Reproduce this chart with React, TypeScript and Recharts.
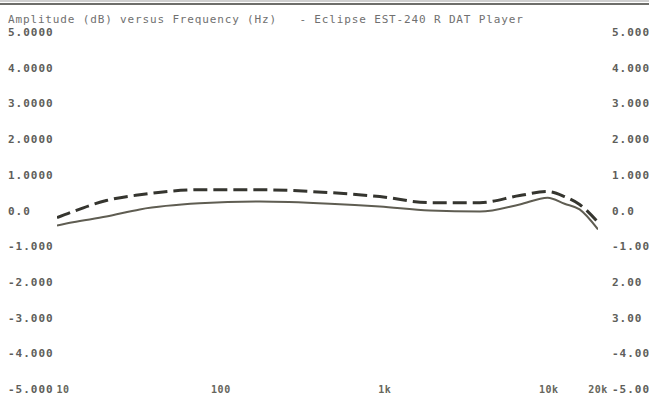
import { Line, LineChart, XAxis, YAxis } from "recharts";

// frequency points in Hz
const freqs = [10, 12.5, 20, 32, 74, 173, 462, 933, 1880, 3800, 6660, 9860, 12500, 15450, 20000];
// dashed trace (dB)
const dashedDb = [-0.2, -0.03, 0.28, 0.44, 0.58, 0.58, 0.5, 0.39, 0.22, 0.22, 0.42, 0.53, 0.39, 0.17, -0.33];
// solid trace (dB)
const solidDb = [-0.42, -0.33, -0.17, 0.03, 0.2, 0.25, 0.19, 0.11, 0.0, -0.03, 0.17, 0.36, 0.19, 0.03, -0.53];

const xTicks = [10, 100, 1000, 10000, 20000];
const xLabels = ["10", "100", "1k", "10k", "20k"];
const yTicks = [5, 4, 3, 2, 1, 0, -1, -2, -3, -4, -5];
const leftLabels = ["5.0000", "4.0000", "3.0000", "2.0000", "1.0000", "0.0", "-1.000", "-2.000", "-3.000", "-4.000", "-5.000"];
const rightLabels = ["5.000", "4.000", "3.000", "2.000", "1.000", "0.0", "-1.00", "2.00", "3.00", "-4.00", "-5.00"];

const title = "Amplitude (dB) versus Frequency (Hz)   - Eclipse EST-240 R DAT Player";

const data = freqs.map((f, i) => ({ f, dashed: dashedDb[i], solid: solidDb[i] }));

const mono = "'DejaVu Sans Mono', monospace";

function YTick(props: any) {
  const i = yTicks.indexOf(props.payload.value);
  return (
    <g fontFamily={mono} fontSize={11} fontWeight="bold" letterSpacing={1.0} fill="#5e5e5a">
      <text x={8} y={props.y} dy={4} textAnchor="start">
        {leftLabels[i]}
      </text>
      <text x={612} y={props.y} dy={4} textAnchor="start">
        {rightLabels[i]}
      </text>
    </g>
  );
}

function BottomTick(props: any) {
  const i = xTicks.indexOf(props.payload.value);
  return (
    <text
      x={props.x}
      y={389}
      dx={i === 0 ? 6 : 0}
      dy={4}
      fontFamily={mono}
      fontSize={10}
      fontWeight="bold"
      letterSpacing={0.5}
      fill="#66665c"
      textAnchor="middle"
    >
      {xLabels[i]}
    </text>
  );
}

export default function App() {
  return (
    <div style={{ position: "relative", width: 649, height: 397, background: "#fff" }}>
      <style>{`body{margin:0;background:#fff}`}</style>
      <div style={{ position: "absolute", left: 0, top: 0, width: 649, height: 2, background: "#cfcfcf" }} />
      <div style={{ position: "absolute", left: 0, top: 3, width: 649, height: 2, background: "#6e6e6a" }} />
      <div
        style={{
          position: "absolute",
          left: 8,
          top: 14,
          fontFamily: mono,
          fontSize: 11,
          letterSpacing: 0.85,
          color: "#707070",
          whiteSpace: "pre",
          lineHeight: "11px",
        }}
      >
        {title}
      </div>
      <LineChart width={649} height={397} data={data} margin={{ top: 32, right: 51, bottom: 0, left: 0 }}>
        <XAxis
          dataKey="f"
          type="number"
          scale="log"
          domain={[10, 20000]}
          ticks={xTicks}
          tick={<BottomTick />}
          axisLine={false}
          tickLine={false}
          height={8}
          interval={0}
          allowDataOverflow
        />
        <YAxis
          orientation="left"
          width={57}
          domain={[-5, 5]}
          ticks={yTicks}
          tick={<YTick />}
          axisLine={false}
          tickLine={false}
          interval={0}
        />
        <Line type="monotone" dataKey="solid" stroke="#5f5d52" strokeWidth={2} dot={false} isAnimationActive={false} />
        <Line type="monotone" dataKey="dashed" stroke="#35352f" strokeWidth={3} strokeDasharray="14 6" dot={false} isAnimationActive={false} />
      </LineChart>
    </div>
  );
}
